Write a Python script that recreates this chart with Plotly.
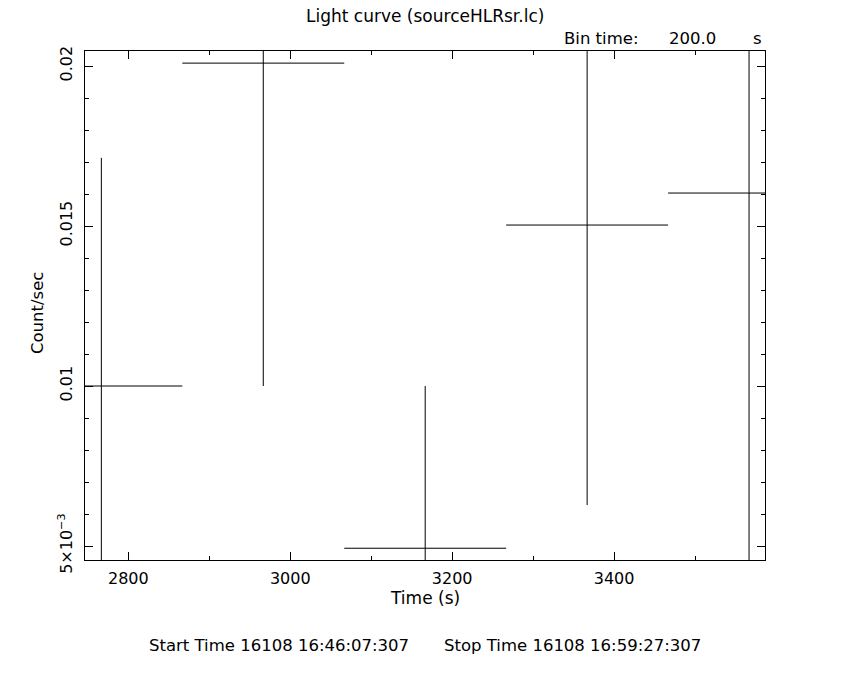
import plotly.graph_objects as go

# Data
time_s = [2766.7, 2966.7, 3166.7, 3366.7, 3566.7]
rate = [0.0100, 0.02009, 0.00493, 0.01503, 0.01603]
rate_err = [0.00713, 0.01009, 0.00507, 0.00875, 0.0120]
half_bin = [100, 100, 100, 100, 100]

y_tickvals = [0.005, 0.01, 0.015, 0.02]
y_ticktext = ["5×10<sup>−3</sup>", "0.01", "0.015", "0.02"]
x_tickvals = [2800, 3000, 3200, 3400]

FONT = "DejaVu Sans"
BLACK = "black"

fig = go.Figure()
fig.add_trace(go.Scatter(
    x=time_s, y=rate, mode="markers",
    marker=dict(size=0.1, color=BLACK, opacity=0),
    error_x=dict(type="data", array=half_bin, symmetric=True, width=0, thickness=1, color=BLACK),
    error_y=dict(type="data", array=rate_err, symmetric=True, width=0, thickness=1, color=BLACK),
    showlegend=False, hoverinfo="skip",
))

W, H = 850, 680
L, R, T, B = 85, 85, 51, 120
pw, ph = W - L - R, H - T - B

def px(x):
    return (x - L) / pw

def py(y):
    return (H - B - y) / ph

ann = []
def add(text, x, y, xanchor="center", yanchor="middle", size=16.5, angle=0):
    ann.append(dict(text=text, x=px(x), y=py(y), xref="paper", yref="paper",
                    xanchor=xanchor, yanchor=yanchor, showarrow=False,
                    textangle=angle, font=dict(family=FONT, size=size, color=BLACK)))

add("Light curve (sourceHLRsr.lc)", 425, 16, size=17)
add("Bin time:", 562, 38, xanchor="left")
add("200.0", 667, 38, xanchor="left")
add("s", 757, 38)
add("Time (s)", 425, 598, size=17)
add("Count/sec", 38, 313, angle=-90)
add("Start Time 16108 16:46:07:307", 147, 645, xanchor="left")
add("Stop Time 16108 16:59:27:307", 703, 645, xanchor="right")

axis_common = dict(
    showline=True, linecolor=BLACK, linewidth=1, mirror="allticks",
    ticks="inside", ticklen=8, tickwidth=1, tickcolor=BLACK,
    showgrid=False, zeroline=False,
    tickfont=dict(family=FONT, size=16, color=BLACK),
)

fig.update_layout(
    width=W, height=H,
    margin=dict(l=L, r=R, t=T, b=B),
    paper_bgcolor="white", plot_bgcolor="white",
    annotations=ann,
    xaxis=dict(range=[2746.5, 3586.4], tickvals=x_tickvals, ticklabelstandoff=4,
               minor=dict(ticks="inside", dtick=100, tick0=2700, ticklen=4, tickcolor=BLACK, tickwidth=1),
               **axis_common),
    yaxis=dict(range=[0.0045625, 0.0204688], tickvals=y_tickvals, ticktext=y_ticktext,
               tickangle=-90, ticklabelstandoff=6,
               minor=dict(ticks="inside", dtick=0.001, tick0=0.0, ticklen=4, tickcolor=BLACK, tickwidth=1),
               **axis_common),
)

fig.write_html("out.html", config={"displayModeBar": False},
               post_script="document.body.style.margin='0';")
